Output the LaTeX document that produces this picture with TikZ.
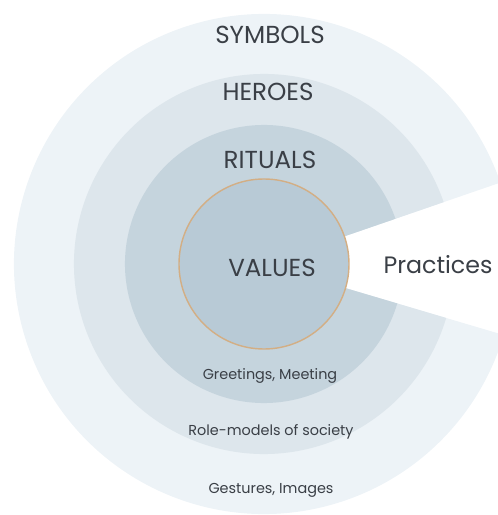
\documentclass[tikz,border=0pt]{standalone}
\usepackage{fontspec}
\setmainfont{Poppins}
\definecolor{symbolfill}{HTML}{EDF3F7}
\definecolor{heroesfill}{HTML}{DDE6EC}
\definecolor{ritualfill}{HTML}{C5D4DD}
\definecolor{valuefill}{HTML}{B8CAD6}
\definecolor{valueline}{HTML}{D3AE84}
\definecolor{labeltext}{HTML}{3A3F46}
\tikzset{
  big/.style={text=labeltext,font=\fontsize{14}{16}\selectfont},
  small/.style={text=labeltext,font=\fontsize{8.2}{10}\selectfont},
}
\begin{document}
\begin{tikzpicture}[x=0.02cm,y=0.02cm]
	\useasboundingbox (0,0) rectangle (498,515);
	\clip (0,0) rectangle (498,515);
	\coordinate (O) at (264,251);

	% rings with the cut for practices
	\fill[symbolfill] (O) -- ++(19:250) arc[start angle=19,end angle=343.5,radius=250] -- cycle;
	\fill[heroesfill] (O) -- ++(19:190) arc[start angle=19,end angle=343.5,radius=190] -- cycle;
	\fill[ritualfill] (O) -- ++(19:139) arc[start angle=19,end angle=343.5,radius=139] -- cycle;
	\draw[valueline,fill=valuefill,line width=0.8pt] (O) circle[radius=85];

	\node[big] (S) at (270,480) {SYMBOLS};
	\node[big] (H) at (268,423) {HEROES};
	\node[big] (R) at (270,355) {RITUALS};
	\node[big] (V) at (272,247) {VALUES};
	\node[big,font=\fontsize{13.5}{16}\selectfont] (P) at (438,250) {Practices};
	\node[small] (G) at (270,139) {Greetings, Meeting};
	\node[small] (RM) at (271,83) {Role-models of society};
	\node[small] (GI) at (271,25) {Gestures, Images};
\end{tikzpicture}
\end{document}
